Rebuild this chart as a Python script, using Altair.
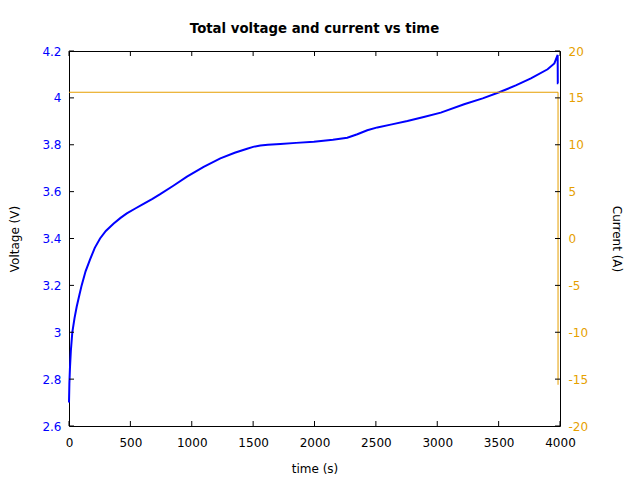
import altair as alt
import pandas as pd

# ---- data ----
time_v = [0, 3, 8, 15, 27, 45, 63, 85, 103, 135, 171, 210, 253, 300, 362, 420,
          471, 540, 607, 680, 743, 850, 961, 1097, 1233, 1350, 1451, 1500, 1559,
          1620, 1722, 1850, 1995, 2150, 2267, 2349, 2430, 2512, 2630, 2757, 2890,
          3029, 3219, 3370, 3505, 3640, 3763, 3899, 3954, 3981, 3982, 3986]
voltage = [2.70, 2.78, 2.85, 2.92, 3.00, 3.06, 3.11, 3.16, 3.20, 3.26, 3.31, 3.36,
           3.40, 3.432, 3.463, 3.488, 3.507, 3.528, 3.548, 3.569, 3.589, 3.625,
           3.664, 3.706, 3.742, 3.766, 3.783, 3.791, 3.797, 3.800, 3.803, 3.808,
           3.813, 3.821, 3.830, 3.845, 3.862, 3.874, 3.887, 3.901, 3.918, 3.937,
           3.973, 3.998, 4.024, 4.053, 4.083, 4.122, 4.147, 4.183, 4.062, 4.062]

time_i = [0, 3984, 3984]
current = [15.6, 15.6, -15.6]

x_ticks = [0, 500, 1000, 1500, 2000, 2500, 3000, 3500, 4000]
v_ticks = [2.6, 2.8, 3.0, 3.2, 3.4, 3.6, 3.8, 4.0, 4.2]
i_ticks = [-20, -15, -10, -5, 0, 5, 10, 15, 20]

W, H = 491, 375
TICK = 5
BLUE = "#0000ff"
ORANGE = "#e69f00"

df_v = pd.DataFrame({"t": time_v, "v": voltage, "idx": range(len(time_v))})
df_i = pd.DataFrame({"t": time_i, "i": current, "idx": range(len(time_i))})
df_xt = pd.DataFrame({"t": x_ticks})
df_vt = pd.DataFrame({"v": v_ticks})
df_it = pd.DataFrame({"i": i_ticks})

X_DOM, V_DOM, I_DOM = [0, 4000], [2.6, 4.2], [-20, 20]


def sc(dom):
    return alt.Scale(domain=dom, nice=False, zero=False)


common = dict(ticks=False, tickSize=0, domain=False, grid=False, labelFlush=False)

x_axis = alt.Axis(orient="bottom", values=x_ticks, labelExpr="'' + datum.value",
                  labelPadding=11.5, labelColor="black", title="time (s)",
                  titleX=W / 2, titleY=46.7, titleBaseline="alphabetic",
                  titleAlign="center", **common)

v_axis = alt.Axis(orient="left", values=v_ticks, format="~g", labelPadding=8,
                  labelColor=BLUE, title="Voltage (V)", titleX=-51,
                  titleY=H / 2, titleBaseline="alphabetic", titleAlign="center",
                  **common)

i_axis = alt.Axis(orient="right", values=i_ticks, labelExpr="'' + datum.value",
                  labelPadding=8, labelColor=ORANGE, title="Current (A)",
                  titleX=52.5, titleY=H / 2, titleBaseline="alphabetic",
                  titleAlign="center", **common)

volt_line = alt.Chart(df_v).mark_line(color=BLUE, strokeWidth=2).encode(
    x=alt.X("t:Q", scale=sc(X_DOM), axis=x_axis),
    y=alt.Y("v:Q", scale=sc(V_DOM), axis=v_axis),
    order="idx:Q",
)

curr_line = alt.Chart(df_i).mark_line(color=ORANGE, strokeWidth=1).encode(
    x=alt.X("t:Q", scale=sc(X_DOM), axis=None),
    y=alt.Y("i:Q", scale=sc(I_DOM), axis=i_axis),
    order="idx:Q",
)

# inward tick marks on all four borders (own scales with identical domains)
rule = dict(color="black", strokeWidth=1)
left_ticks = alt.Chart(df_vt).mark_rule(**rule).encode(
    y=alt.Y("v:Q", scale=sc(V_DOM), axis=None),
    x=alt.value(0), x2=alt.value(TICK),
)
right_ticks = alt.Chart(df_it).mark_rule(**rule).encode(
    y=alt.Y("i:Q", scale=sc(I_DOM), axis=None),
    x=alt.value(W - TICK), x2=alt.value(W),
)
bottom_ticks = alt.Chart(df_xt).mark_rule(**rule).encode(
    x=alt.X("t:Q", scale=sc(X_DOM), axis=None),
    y=alt.value(H - TICK), y2=alt.value(H),
)
top_ticks = alt.Chart(df_xt).mark_rule(**rule).encode(
    x=alt.X("t:Q", scale=sc(X_DOM), axis=None),
    y=alt.value(0), y2=alt.value(TICK),
)

chart = alt.layer(
    volt_line, curr_line, left_ticks, right_ticks, bottom_ticks, top_ticks
).resolve_scale(
    x="independent", y="independent"
).properties(
    width=W, height=H,
    padding={"left": 69, "top": 51, "right": 80, "bottom": 54},
    autosize=alt.AutoSizeParams(type="none"),
    title=alt.TitleParams("Total voltage and current vs time", fontSize=13.3,
                          fontWeight="bold", font="DejaVu Sans", color="black",
                          anchor="middle", frame="group", baseline="alphabetic",
                          offset=2.5, dy=3.5),
).configure(
    font="DejaVu Sans",
    background="white",
).configure_view(
    stroke="black", strokeWidth=1,
).configure_axis(
    labelFont="DejaVu Sans", labelFontSize=12, titleFont="DejaVu Sans",
    titleFontSize=12, titleFontWeight="normal", titleColor="black",
)

chart.save("out.html", embed_options={"renderer": "svg", "actions": False})
